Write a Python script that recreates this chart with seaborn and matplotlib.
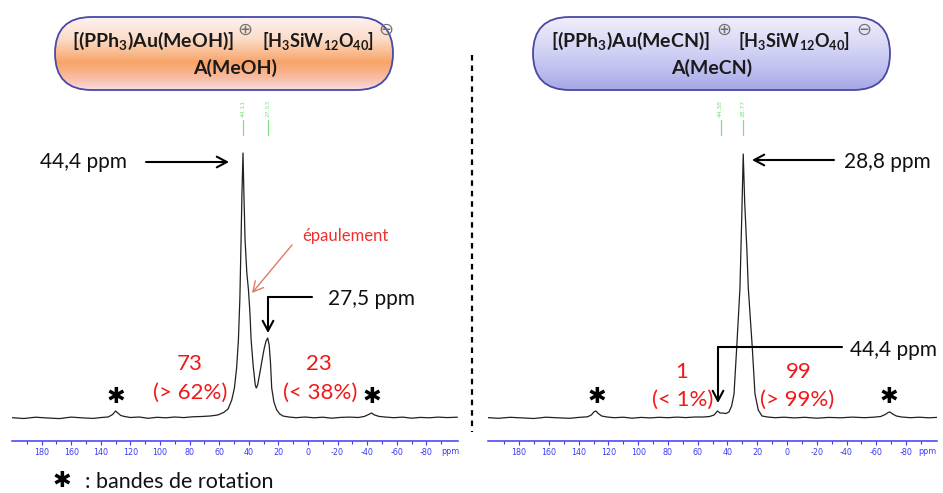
import numpy as np
import pandas as pd
import seaborn as sns
import matplotlib.pyplot as plt
import matplotlib.transforms as mtransforms
from matplotlib.patches import FancyBboxPatch
from matplotlib.colors import LinearSegmentedColormap
from matplotlib.ticker import FixedLocator

# -----------------------------
# DATA
# -----------------------------
# A(MeOH) spectrum: chemical shift (ppm) and intensity (arb. units)
ppm_meoh = [200, 192, 184, 176, 168, 160, 152, 145, 139, 135, 132, 130, 128.5, 126.5, 124, 120,
            114, 108, 102, 96, 90, 84, 78, 72, 66, 61, 57, 54, 51.5, 49.7, 48.2, 47, 46, 45.2,
            44.6, 43.9, 43.3, 42.5, 41.3, 40.2, 39.2, 38.4, 37, 35.6, 34.9, 34, 32.5, 31, 29.5,
            28.3, 27.2, 26.2, 25.3, 24.5, 23, 21.1, 19, 16.9, 13, 8, 2, -4, -10, -16, -22, -28,
            -34, -38, -41, -43, -45, -48, -52, -58, -64, -70, -76, -82, -88, -94, -101]
int_meoh = [0.3, -0.5, 0.8, 0.0, -0.6, 0.9, 0.1, -0.4, 0.6, 1.0, 3.5, 7.0, 5.0, 2.5, 1.5, 0.5,
            1.0, -0.3, 0.7, 0.2, 1.0, 0.4, 1.2, 1.5, 2.0, 3.0, 5.5, 9, 18, 30, 50, 78, 120, 178,
            225, 265, 225, 178, 145, 128, 105, 78, 52, 33, 30, 33, 45, 58, 70,
            77, 80, 73, 55, 30, 16, 8, 4, 2, 1.0, 0.3, 1.0, 0.2, 0.8, -0.2, 0.6, 0.9,
            0.5, 1.5, 3.5, 5.0, 3.0, 1.6, 1.0, 0.3, 0.9, -0.2, 0.6, 0.2, 0.9, 0.4, 0.8]

# A(MeCN) spectrum
ppm_mecn = [201, 194, 186, 178, 170, 162, 154, 146, 140, 134, 131.5, 129.8, 128.4, 126.8, 124.5,
            121, 116, 110, 104, 98, 92, 86, 80, 74, 68, 62, 56, 52, 49, 46.7, 45, 43.7, 41, 39,
            37.2, 35.6, 33.8, 31.6, 30.4, 29.4, 28.4, 27.0, 26.0, 23.3, 21.5, 19.3, 16.8, 13, 8,
            2, -5, -12, -20, -28, -36, -44, -52, -58, -63, -66, -68, -69.2, -71, -73.5, -77,
            -83, -89, -95, -101]
int_mecn = [0.4, -0.3, 0.7, 0.1, -0.5, 0.8, 0.2, -0.3, 0.6, 1.2, 3.0, 6.0, 7.0, 4.5, 2.0,
            1.0, 0.3, 0.8, -0.2, 0.6, 0.1, 0.7, 0.3, 0.9, 0.4, 1.0, 1.0, 1.5, 3, 7, 5, 5, 4.5, 6,
            12, 24, 70, 130, 200, 264, 215, 170, 130, 70, 24, 8, 2, 1, 0.3,
            0.8, 0.1, 0.7, -0.2, 0.6, 0.2, 0.9, 0.3, 0.8, 1.5, 3.5, 5.5, 6, 4, 2, 1,
            0.3, 0.8, 0.2, 0.6]

# peak-pick labels (green) above each spectrum
pick_pos_meoh = [43.9, 27.2]
pick_lbl_meoh = ["44.11", "27.53"]
pick_pos_mecn = [44.6, 29.4]
pick_lbl_mecn = ["44.38", "28.77"]

major_ticks = [180, 160, 140, 120, 100, 80, 60, 40, 20, 0, -20, -40, -60, -80]
minor_ticks = [190, 170, 150, 130, 110, 90, 70, 50, 30, 10, -10, -30, -50, -70, -90]

# -----------------------------
# STYLE
# -----------------------------
sns.set_theme(style="white")
plt.rcParams['font.family'] = ['Lato', 'DejaVu Sans']
plt.rcParams['axes.unicode_minus'] = False
plt.rcParams['mathtext.fontset'] = 'custom'
plt.rcParams['mathtext.rm'] = 'Lato:bold'
plt.rcParams['mathtext.it'] = 'Lato:bold'
plt.rcParams['mathtext.bf'] = 'Lato:bold'

W, H = 943, 493
fig = plt.figure(figsize=(W / 100, H / 100), dpi=100)


def px_rect(x0, x1, ytop, ybot):
    return [x0 / W, 1 - ybot / H, (x1 - x0) / W, (ybot - ytop) / H]


ax1 = fig.add_axes(px_rect(12, 458, 100, 441))
ax2 = fig.add_axes(px_rect(488, 937, 100, 441))
ov = fig.add_axes([0, 0, 1, 1])
ov.set_xlim(0, W)
ov.set_ylim(H, 0)
ov.axis('off')

BLUE = '#3c3cf2'
GREEN = '#79e279'


def draw_spectrum(ax, ppm, inten, xlim, pick_pos, pick_lbl, ppm_x):
    df = pd.DataFrame({"ppm": ppm, "intensity": inten})
    sns.lineplot(data=df, x="ppm", y="intensity", ax=ax, color="#202020", lw=0.9,
                 sort=False, estimator=None)
    ax.set_xlim(*xlim)
    ax.set_ylim(-23, 318)
    ax.set_xlabel("")
    ax.set_ylabel("")
    ax.set_facecolor('none')
    for s in ['left', 'top', 'right']:
        ax.spines[s].set_visible(False)
    ax.spines['bottom'].set_color(BLUE)
    ax.spines['bottom'].set_linewidth(1.1)
    ax.set_yticks([])
    ax.xaxis.set_major_locator(FixedLocator(major_ticks))
    ax.xaxis.set_minor_locator(FixedLocator(minor_ticks))
    ax.tick_params(axis='x', which='major', bottom=True, direction='out', length=3,
                   width=0.8, color=BLUE, labelcolor=BLUE, labelsize=5.8, pad=2)
    ax.tick_params(axis='x', which='minor', bottom=True, direction='out', length=2,
                   width=0.8, color=BLUE)
    for lab in ax.get_xticklabels():
        lab.set_family('DejaVu Sans')
    ov.text(ppm_x, 451, "ppm", color=BLUE, fontsize=5.8, ha='center', va='center',
            family='DejaVu Sans')
    # peak pick markers
    trans = mtransforms.blended_transform_factory(ax.transData, ov.transData)
    for p, l in zip(pick_pos, pick_lbl):
        ax.plot([p, p], [120, 135], transform=trans, color=GREEN, lw=0.9, clip_on=False)
        ax.text(p, 117, l, transform=trans, rotation=90, ha='center', va='bottom',
                fontsize=4.3, color=GREEN, family='DejaVu Sans', clip_on=False)


draw_spectrum(ax1, ppm_meoh, int_meoh, (200, -101.4), pick_pos_meoh, pick_lbl_meoh, 450)
draw_spectrum(ax2, ppm_mecn, int_mecn, (200.9, -100.8), pick_pos_mecn, pick_lbl_mecn, 927)


# -----------------------------
# TITLE PILLS
# -----------------------------
def pill(x0, x1, y0, y1, colors):
    patch = FancyBboxPatch((x0, y0), x1 - x0, y1 - y0,
                           boxstyle=f"round,pad=0,rounding_size={(y1 - y0) / 2}",
                           fc='none', ec='#4848a8', lw=1.3, zorder=3)
    ov.add_patch(patch)
    cmap = LinearSegmentedColormap.from_list('pill', colors)
    im = ov.imshow(np.linspace(0, 1, 256).reshape(-1, 1), cmap=cmap,
                   extent=(x0, x1, y1, y0), aspect='auto', zorder=2,
                   interpolation='bilinear')
    im.set_clip_path(patch)


pill(55, 393, 17, 90, [(0, '#fdf2f2'), (0.3, '#fcdcc8'), (0.62, '#f8a468'),
                       (0.85, '#f9bea6'), (1, '#f7dde3')])
pill(533, 890, 17, 90, [(0, '#efeffc'), (0.35, '#dadaf6'), (0.7, '#c0c1f0'),
                        (1, '#a6a7e5')])
ov.set_xlim(0, W)
ov.set_ylim(H, 0)

tkw = dict(fontsize=14, weight='bold', color='#1a1a1a', va='baseline', zorder=4)
akw_t = dict(tkw, fontsize=13)
skw = dict(fontsize=13, color='#707070', family='DejaVu Sans', ha='center',
           va='center', zorder=4)
ov.text(234, 47, "[(PPh$_3$)Au(MeOH)]", ha='right', **tkw)
ov.text(245, 30, "\u2295", **skw)
ov.text(262, 47, "[H$_3$SiW$_{12}$O$_{40}$]", ha='left', **akw_t)
ov.text(386, 30, "\u2296", **skw)
ov.text(235, 74, "A(MeOH)", ha='center', **tkw)

ov.text(710, 47, "[(PPh$_3$)Au(MeCN)]", ha='right', **tkw)
ov.text(724, 30, "\u2295", **skw)
ov.text(738, 47, "[H$_3$SiW$_{12}$O$_{40}$]", ha='left', **akw_t)
ov.text(864, 30, "\u2296", **skw)
ov.text(712, 74, "A(MeCN)", ha='center', **tkw)

# dashed separator
ov.plot([472, 472], [55, 432], color='black', lw=1.6, ls=(0, (2.5, 2.2)))

# -----------------------------
# ANNOTATIONS
# -----------------------------
akw = dict(arrowstyle="->,head_length=0.6,head_width=0.32", lw=1.5, color='black',
           shrinkA=0, shrinkB=0)
lkw = dict(fontsize=15, color='#111111', va='baseline')
red = dict(fontsize=16, color='#f01818', ha='center', va='baseline')
star = dict(fontsize=16, color='black', ha='center', va='center', family='DejaVu Sans')

# left panel
ov.text(40, 168, "44,4 ppm", ha='left', **lkw)
ov.annotate("", xy=(229, 162), xytext=(146, 162), arrowprops=akw)
ov.text(302, 241, "épaulement", ha='left', fontsize=12, color='#f03030', va='baseline')
ov.annotate("", xy=(252, 293), xytext=(292, 245),
            arrowprops=dict(akw, lw=1.0, color='#e07a64'))
ov.text(328, 305, "27,5 ppm", ha='left', **lkw)
ov.plot([312, 268], [297, 297], color='black', lw=1.5)
ov.annotate("", xy=(268, 333), xytext=(268, 297), arrowprops=akw)
ov.text(190, 370, "73", **red)
ov.text(190, 399, "(> 62%)", **red)
ov.text(319, 370, "23", **red)
ov.text(320, 399, "(< 38%)", **red)
ov.text(116, 397, "\u2731", **star)
ov.text(372, 397, "\u2731", **star)

# right panel
ov.text(844, 168, "28,8 ppm", ha='left', **lkw)
ov.annotate("", xy=(752, 160), xytext=(834, 160), arrowprops=akw)
ov.text(850, 356, "44,4 ppm", ha='left', **lkw)
ov.plot([842, 718], [347, 347], color='black', lw=1.5)
ov.annotate("", xy=(718, 403), xytext=(718, 347), arrowprops=akw)
ov.text(682, 378, "1", **red)
ov.text(683, 406, "(< 1%)", **red)
ov.text(799, 378, "99", **red)
ov.text(797, 406, "(> 99%)", **red)
ov.text(597, 397, "\u2731", **star)
ov.text(889, 397, "\u2731", **star)

# legend for spinning sidebands
ov.text(62, 481, "\u2731", **star)
ov.text(85, 488, ": bandes de rotation", ha='left', fontsize=15.5, color='#111111',
        va='baseline')

plt.savefig("out.png", dpi=100)
